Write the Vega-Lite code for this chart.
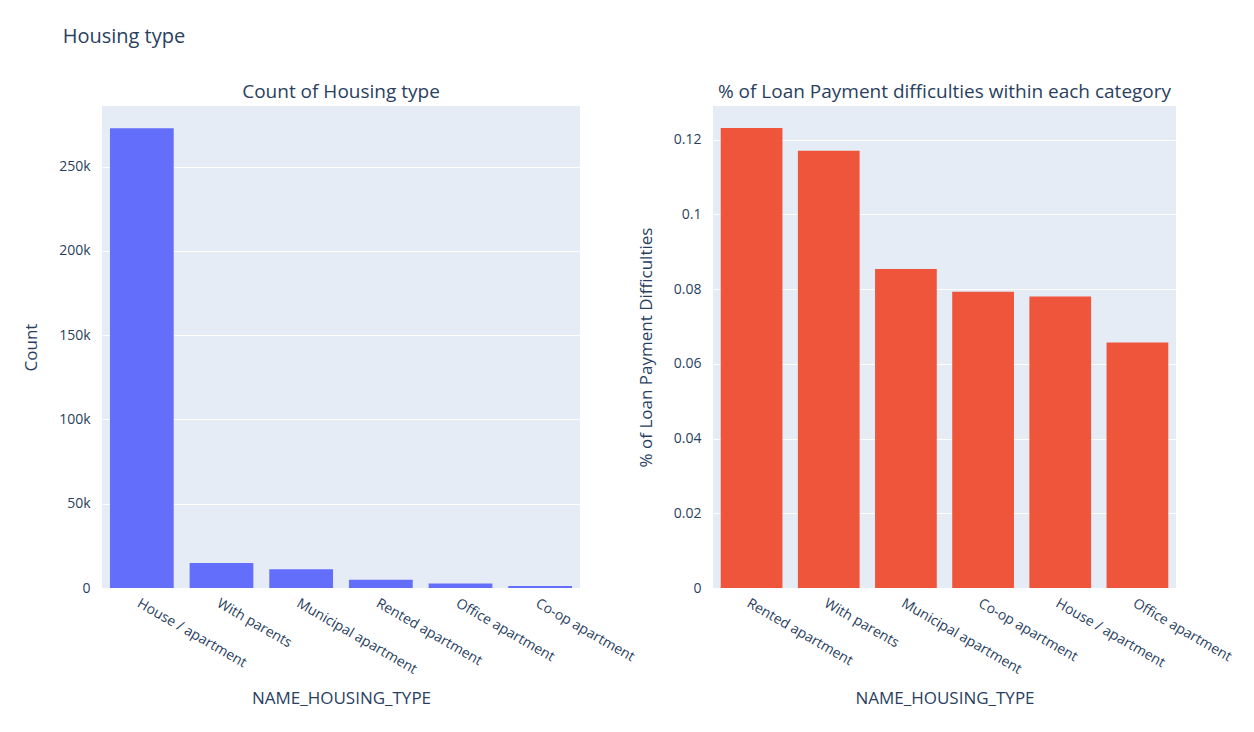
{
"$schema":"https://vega.github.io/schema/vega-lite/v6.json",
"padding":{"left":22,"top":27,"right":10,"bottom":10},
"title":{"text":"Housing type","anchor":"start","fontSize":20,"font":"Open Sans","fontWeight":"normal","color":"#2a3f5f","offset":30,"dx":40,"dy":-6},
"config":{
"view":{"fill":"#E5ECF6","stroke":null},
"font":"Open Sans",
"axis":{"domain":false,"ticks":false,"labelColor":"#2a3f5f","titleColor":"#2a3f5f","labelFontSize":14,"titleFontSize":17,"titleFontWeight":"normal","gridColor":"#ffffff","gridWidth":1,"labelFont":"Open Sans","titleFont":"Open Sans"},
"axisX":{"labelAngle":30,"labelAlign":"left","labelBaseline":"top","grid":false,"labelPadding":8,"titlePadding":14},
"axisY":{"labelPadding":12,"titlePadding":18},
"title":{"fontSize":19,"fontWeight":"normal","color":"#2a3f5f","font":"Open Sans","offset":4}
},
"spacing":0,
"hconcat":[
{"width":478,"height":482,
"title":"Count of Housing type",
"data":{"values":[
{"NAME_HOUSING_TYPE":"House / apartment","Count":272868},
{"NAME_HOUSING_TYPE":"With parents","Count":14840},
{"NAME_HOUSING_TYPE":"Municipal apartment","Count":11183},
{"NAME_HOUSING_TYPE":"Rented apartment","Count":4881},
{"NAME_HOUSING_TYPE":"Office apartment","Count":2617},
{"NAME_HOUSING_TYPE":"Co-op apartment","Count":1122}]},
"mark":{"type":"bar","color":"#636EFA"},
"encoding":{
"x":{"field":"NAME_HOUSING_TYPE","type":"nominal","sort":null,"scale":{"paddingInner":0.2,"paddingOuter":0.1},"title":"NAME_HOUSING_TYPE"},
"y":{"field":"Count","type":"quantitative","scale":{"domain":[0,286000],"nice":false},"axis":{"values":[0,50000,100000,150000,200000,250000],"labelExpr":"datum.value == 0 ? '0' : format(datum.value, '~s')"},"title":"Count"}
}},
{"width":463,"height":482,
"title":"% of Loan Payment difficulties within each category",
"data":{"values":[
{"NAME_HOUSING_TYPE":"Rented apartment","v":0.1231},
{"NAME_HOUSING_TYPE":"With parents","v":0.1170},
{"NAME_HOUSING_TYPE":"Municipal apartment","v":0.0854},
{"NAME_HOUSING_TYPE":"Co-op apartment","v":0.0793},
{"NAME_HOUSING_TYPE":"House / apartment","v":0.0780},
{"NAME_HOUSING_TYPE":"Office apartment","v":0.0657}]},
"mark":{"type":"bar","color":"#EF553B"},
"encoding":{
"x":{"field":"NAME_HOUSING_TYPE","type":"nominal","sort":null,"scale":{"paddingInner":0.2,"paddingOuter":0.1},"title":"NAME_HOUSING_TYPE"},
"y":{"field":"v","type":"quantitative","scale":{"domain":[0,0.129],"nice":false},"axis":{"values":[0,0.02,0.04,0.06,0.08,0.1,0.12],"format":"~g"},"title":"% of Loan Payment Difficulties"}
}}
]}
